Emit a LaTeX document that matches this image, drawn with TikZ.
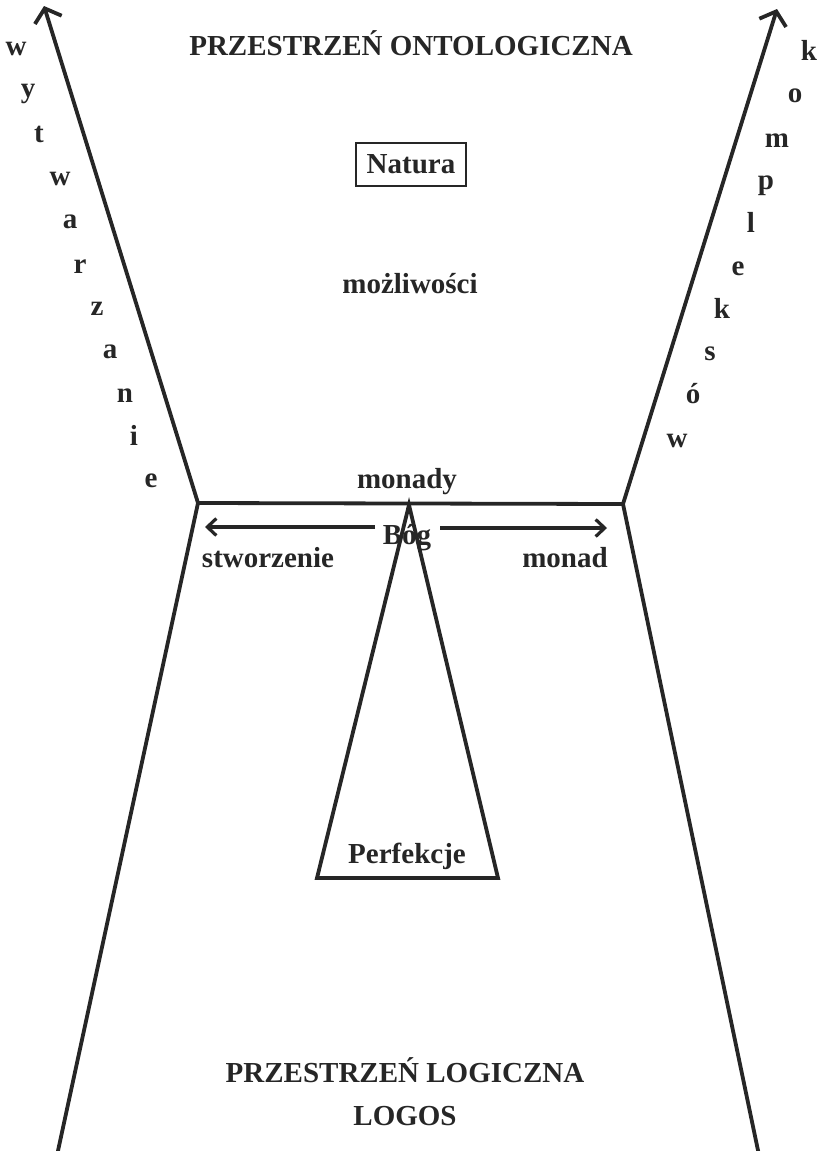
\documentclass[tikz,border=0pt]{standalone}
\usepackage{fontspec}
\setmainfont{Liberation Serif}
\usetikzlibrary{arrows.meta}
\definecolor{ink}{gray}{0.15}
\begin{document}
\begin{tikzpicture}[x=1pt,y=-1pt,
  ln/.style={line width=3.8pt, draw=ink, line join=miter, line cap=round},
  harrow/.style={line width=3.2pt, draw=ink, -{Straight Barb[length=9pt,width=17pt,line width=3.2pt]}},
  varrow/.style={ln, -{Straight Barb[length=12pt,width=28pt,line width=3.8pt]}},
  txt/.style={font=\fontsize{29}{31}\selectfont\bfseries, text=ink, inner sep=0pt, anchor=base},
  boxed/.style={font=\fontsize{29}{31}\selectfont\bfseries, text=ink, draw=ink, line width=2.8pt, minimum width=110pt, minimum height=43pt, inner sep=0pt}]
\useasboundingbox (0,0) rectangle (819,1151);
% key points
\coordinate (L) at (198,503);
\coordinate (R) at (623,504);
\coordinate (Ltip) at (44,6);
\coordinate (Rtip) at (777,9);
\coordinate (Lbot) at (56,1160);
\coordinate (Rbot) at (760,1160);
\coordinate (apex) at (409,505);
\coordinate (bl) at (317,878);
\coordinate (br) at (498,878);
\coordinate (la0) at (375,527);
\coordinate (la1) at (205,527);
\coordinate (ra0) at (440,528);
\coordinate (ra1) at (607,528);
% outline
\draw[varrow] (L) -- (Ltip);
\draw[varrow] (R) -- (Rtip);
\draw[ln] (Lbot) -- (L) -- (R) -- (Rbot);
\draw[ln] (apex) -- (bl) -- (br) -- cycle;
\draw[harrow] (la0) -- (la1);
\draw[harrow] (ra0) -- (ra1);
% texts
\node[txt] (t1) at (411,55) {PRZESTRZEŃ ONTOLOGICZNA};
\node[boxed] (nat) at (411,164.5) {Natura};
\node[txt] (mozl) at (410,293) {możliwości};
\node[txt] (mon) at (407,488) {monady};
\node[txt] (bog) at (407,544) {Bóg};
\node[txt] (stw) at (268,567) {stworzenie};
\node[txt] (monad) at (565,567) {monad};
\node[txt] (perf) at (407,863) {Perfekcje};
\node[txt] (t2) at (405,1082) {PRZESTRZEŃ LOGICZNA};
\node[txt] (logos) at (405,1125) {LOGOS};
% vertical words
\foreach \x/\y/\c [count=\i] in {16/55/w,28/97/y,39/142/t,60/185/w,70/228/a,80/273/r,97/315/z,110/358/a,125/402/n,134/445/i,151/487/e}
  \node[txt] (lw\i) at (\x,\y) {\c};
\foreach \x/\y/\c [count=\i] in {809/60/k,795/102/o,777/147/m,766/189/p,751/232/l,738/275/e,722/318/k,710/360/s,693/403/ó,677/447/w}
  \node[txt] (rw\i) at (\x,\y) {\c};
\end{tikzpicture}
\end{document}
